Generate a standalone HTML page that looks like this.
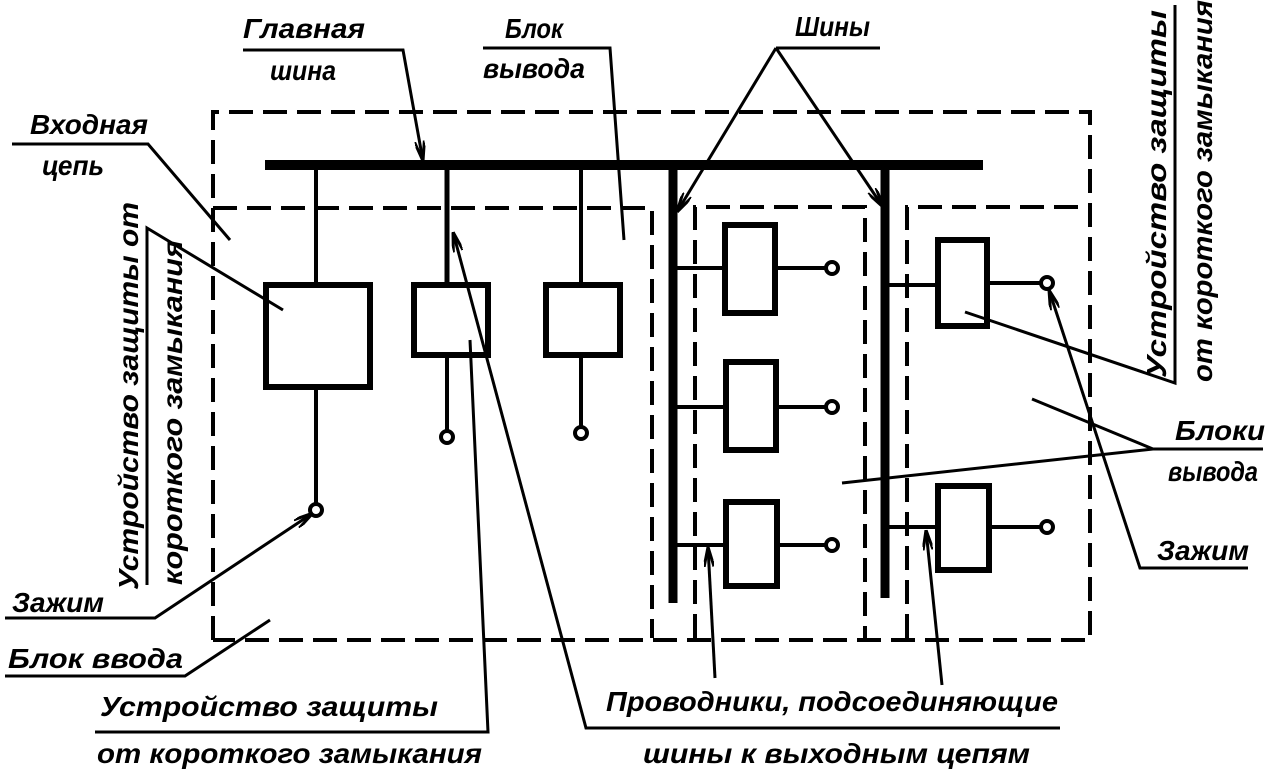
<!DOCTYPE html>
<html><head><meta charset="utf-8"><style>
html,body{margin:0;padding:0;background:#fff;}
svg{display:block;}
text{font-family:"Liberation Sans",sans-serif;font-style:italic;font-weight:bold;font-size:28px;fill:#000;}
</style></head><body>
<svg width="1273" height="771" viewBox="0 0 1273 771" xmlns="http://www.w3.org/2000/svg">
<defs>
<marker id="ar" viewBox="0 0 20 10" refX="20" refY="5" markerWidth="20" markerHeight="10" markerUnits="userSpaceOnUse" orient="auto">
<path d="M0,0 L20,5 L0,10" fill="none" stroke="#000" stroke-width="3"/>
</marker>
</defs>
<g fill="none" stroke="#000" stroke-width="4" stroke-dasharray="24,10">
<path d="M213,640 V112 H1090 V640 H213"/>
<path d="M213,208 H652 V638"/>
<path d="M695,638 V207 H865 V638"/>
<path d="M907,638 V207 H1090"/>
</g>
<g stroke="#000" fill="none">
<line x1="265" y1="165" x2="983" y2="165" stroke-width="10"/>
<line x1="673" y1="163" x2="673" y2="603" stroke-width="9"/>
<line x1="885" y1="163" x2="885" y2="598" stroke-width="9"/>
<g stroke-width="4">
<line x1="316" y1="165" x2="316" y2="285"/>
<rect x="266" y="285" width="104" height="102" stroke-width="6"/>
<line x1="316" y1="387" x2="316" y2="503"/>
<circle cx="316" cy="510" r="6"/>
<line x1="447" y1="165" x2="447" y2="285" stroke-width="5"/>
<rect x="414" y="285" width="74" height="70" stroke-width="6"/>
<line x1="447" y1="355" x2="447" y2="430"/>
<circle cx="447" cy="437" r="6"/>
<line x1="581" y1="165" x2="581" y2="285"/>
<rect x="546" y="285" width="74" height="70" stroke-width="6"/>
<line x1="581" y1="355" x2="581" y2="426"/>
<circle cx="581" cy="433" r="6"/>
<rect x="725" y="225" width="50" height="88" stroke-width="6"/>
<rect x="726" y="362" width="50" height="88" stroke-width="6"/>
<rect x="726" y="502" width="51" height="84" stroke-width="6"/>
<line x1="673" y1="268" x2="725" y2="268"/><line x1="775" y1="268" x2="826" y2="268"/><circle cx="832" cy="268" r="6"/>
<line x1="673" y1="407" x2="726" y2="407"/><line x1="776" y1="407" x2="826" y2="407"/><circle cx="832" cy="407" r="6"/>
<line x1="673" y1="545" x2="726" y2="545"/><line x1="777" y1="545" x2="826" y2="545"/><circle cx="832" cy="545" r="6"/>
<rect x="938" y="240" width="49" height="86" stroke-width="6"/>
<rect x="938" y="486" width="51" height="84" stroke-width="6"/>
<line x1="885" y1="285" x2="938" y2="285"/><line x1="987" y1="283" x2="1041" y2="283"/><circle cx="1047" cy="283" r="6"/>
<line x1="885" y1="527" x2="938" y2="527"/><line x1="989" y1="527" x2="1041" y2="527"/><circle cx="1047" cy="527" r="6"/>
</g>
<g stroke-width="3">
<polyline points="243,50 403,50 423,161" marker-end="url(#ar)"/>
<polyline points="483,48 610,48 624,240"/>
<line x1="776" y1="48" x2="880" y2="48"/>
<line x1="776" y1="48" x2="677" y2="212" marker-end="url(#ar)"/>
<line x1="776" y1="48" x2="883" y2="207" marker-end="url(#ar)"/>
<polyline points="12,144 148,144 230,240"/>
<polyline points="147,585 147,228 283,310"/>
<polyline points="5,618 155,618 313,513" marker-end="url(#ar)"/>
<polyline points="5,676 185,676 270,620"/>
<polyline points="95,732 488,732 470,340"/>
<polyline points="1060,728 586,728 453,232" marker-end="url(#ar)"/>
<line x1="715" y1="678" x2="708" y2="547" marker-end="url(#ar)"/>
<line x1="942" y1="685" x2="926" y2="530" marker-end="url(#ar)"/>
<polyline points="1175,5 1175,383 965,312"/>
<polyline points="1263,449 1153,449 842,483"/>
<line x1="1153" y1="449" x2="1032" y2="399"/>
<polyline points="1248,568 1140,568 1049,290" marker-end="url(#ar)"/>
</g>
</g>
<g>
<text x="243" y="38" textLength="122" lengthAdjust="spacingAndGlyphs">Главная</text>
<text x="270" y="80" textLength="66" lengthAdjust="spacingAndGlyphs">шина</text>
<text x="505" y="38" textLength="58" lengthAdjust="spacingAndGlyphs">Блок</text>
<text x="483" y="78" textLength="102" lengthAdjust="spacingAndGlyphs">вывода</text>
<text x="795" y="36" textLength="75" lengthAdjust="spacingAndGlyphs">Шины</text>
<text x="30" y="134" textLength="118" lengthAdjust="spacingAndGlyphs">Входная</text>
<text x="42" y="175" textLength="62" lengthAdjust="spacingAndGlyphs">цепь</text>
<text x="12" y="612" textLength="92" lengthAdjust="spacingAndGlyphs">Зажим</text>
<text x="8" y="668" textLength="175" lengthAdjust="spacingAndGlyphs">Блок ввода</text>
<text x="100" y="716" textLength="338" lengthAdjust="spacingAndGlyphs">Устройство защиты</text>
<text x="97" y="763" textLength="385" lengthAdjust="spacingAndGlyphs">от короткого замыкания</text>
<text x="606" y="711" textLength="452" lengthAdjust="spacingAndGlyphs">Проводники, подсоединяющие</text>
<text x="643" y="763" textLength="387" lengthAdjust="spacingAndGlyphs">шины к выходным цепям</text>
<text x="1175" y="440" textLength="90" lengthAdjust="spacingAndGlyphs">Блоки</text>
<text x="1168" y="481" textLength="90" lengthAdjust="spacingAndGlyphs">вывода</text>
<text x="1157" y="560" textLength="92" lengthAdjust="spacingAndGlyphs">Зажим</text>
<text transform="translate(138,590) rotate(-90)" textLength="388" lengthAdjust="spacingAndGlyphs">Устройство защиты от</text>
<text transform="translate(182,585) rotate(-90)" textLength="345" lengthAdjust="spacingAndGlyphs">короткого замыкания</text>
<text transform="translate(1166,378) rotate(-90)" textLength="368" lengthAdjust="spacingAndGlyphs">Устройство защиты</text>
<text transform="translate(1212,382) rotate(-90)" textLength="382" lengthAdjust="spacingAndGlyphs">от короткого замыкания</text>
</g>
</svg>
</body></html>
